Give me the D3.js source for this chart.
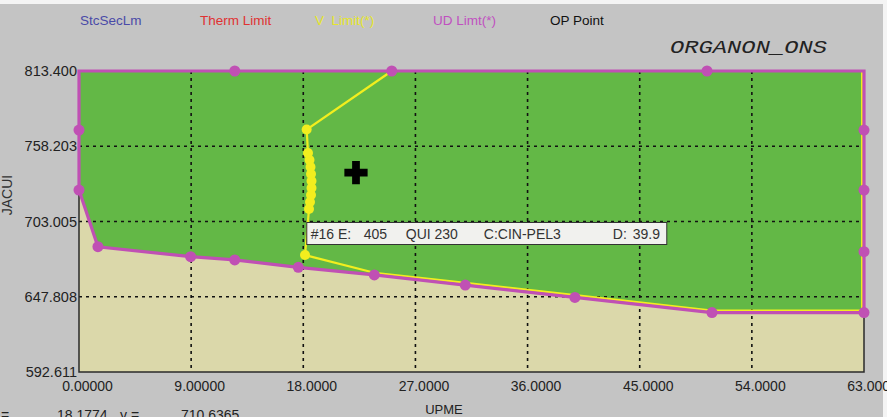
<!DOCTYPE html>
<html><head><meta charset="utf-8">
<script src="https://cdn.jsdelivr.net/npm/d3@7"></script>
<style>
html,body{margin:0;padding:0;background:#fff;overflow:hidden}
text{font-family:"Liberation Sans",Arial,sans-serif;white-space:pre}
</style></head>
<body><svg id="c" width="887" height="417"></svg>
<script>
// ---- data ----
const xTicks = [0, 9, 18, 27, 36, 45, 54, 63];
const xTickLabels = ["0.00000","9.00000","18.0000","27.0000","36.0000","45.0000","54.0000","63.0000"];
const yTicks = [592.611, 647.808, 703.005, 758.203, 813.4];
const yTickLabels = ["592.611","647.808","703.005","758.203","813.400"];
const legendNames = ["StcSecLm","Therm Limit","V  Limit(*)","UD Limt(*)","OP Point"];
const legendColors = ["#4a4aa8","#e03232","#e6e62a","#c050c0","#111111"];
// UD limit region boundary (x = UPME, y = JACUI)
const udX = [0, 12.5, 25.1, 50.4, 63, 63, 63, 63, 63, 50.8, 39.8, 31.0, 23.7, 17.6, 12.5, 8.96, 1.52, 0, 0];
const udY = [813.4, 813.4, 813.4, 813.4, 813.4, 770.1, 726.1, 680.9, 636.2, 636.2, 647.3, 656.4, 663.8, 669.4, 674.8, 677.2, 684.5, 726.1, 770.1];
const udDot = [0, 1, 1, 1, 0, 1, 1, 1, 1, 1, 1, 1, 1, 1, 1, 1, 1, 1, 1];
// V limit polyline
const vX = [62.85, 62.85, 50.8, 39.8, 31.0, 23.7, 18.14, 18.46, 18.54, 18.62, 18.66, 18.66, 18.62, 18.58, 18.50, 18.38, 18.27, 25.1];
const vY = [813.4, 637.6, 637.6, 649.0, 658.0, 665.4, 678.4, 712.2, 717.3, 722.4, 727.6, 732.7, 737.9, 743.0, 748.1, 753.3, 770.5, 813.4];
const vDot = [0, 0, 0, 0, 0, 0, 1, 1, 1, 1, 1, 1, 1, 1, 1, 1, 1, 0];
// operating point
const opX = [22.23];
const opY = [738.8];
// tooltip
const tipAnchor = [18.2, 703.005];
const tipTokens = ["#16 E:", "405", "QUI 230", "C:CIN-PEL3", "D:", "39.9"];
const tipOffsets = [4, 57, 99, 177, 306, 326];
const statusTokens = ["x =", "18.1774", "y =", "710.6365"];

// ---- drawing ----
const svg = d3.select("#c");
const W = 887, H = 417;
const x = d3.scaleLinear().domain([0, 63]).range([79, 864]);
const y = d3.scaleLinear().domain([592.611, 813.4]).range([372, 71]);

svg.append("rect").attr("width", W).attr("height", H).attr("fill", "#c4c4c4");
svg.append("rect").attr("x", 883).attr("width", 4).attr("height", H).attr("fill", "#f4f4f4");
svg.append("rect").attr("width", W).attr("height", 4).attr("fill", "#f4f4f4");

// plot background (infeasible)
svg.append("rect").attr("x", x(0)).attr("y", y(813.4))
  .attr("width", x(63) - x(0)).attr("height", y(592.611) - y(813.4))
  .attr("fill", "#dbd8aa");

const udPts = udX.map((d, i) => [d, udY[i], udDot[i]]);
const vPts = vX.map((d, i) => [d, vY[i], vDot[i]]);
const line = d3.line().x(d => x(d[0])).y(d => y(d[1]));

// feasible region
svg.append("path").attr("d", line(udPts) + "Z").attr("fill", "#63b846");

// grid
const g = svg.append("g").attr("stroke", "#111").attr("stroke-width", 1.6).attr("stroke-dasharray", "3,4");
xTicks.slice(1, -1).forEach(t => g.append("line").attr("x1", x(t)).attr("x2", x(t)).attr("y1", y(813.4)).attr("y2", y(592.611)));
yTicks.slice(1, -1).forEach(t => g.append("line").attr("x1", x(0)).attr("x2", x(63)).attr("y1", y(t)).attr("y2", y(t)));

// frame
svg.append("rect").attr("x", x(0)).attr("y", y(813.4))
  .attr("width", x(63) - x(0)).attr("height", y(592.611) - y(813.4))
  .attr("fill", "none").attr("stroke", "#2a2a2a").attr("stroke-width", 1.5);

// V limit
svg.append("path").attr("d", line(vPts)).attr("fill", "none").attr("stroke", "#f2ee1e").attr("stroke-width", 2.2);
svg.selectAll("circle.v").data(vPts.filter(d => d[2])).enter().append("circle")
  .attr("cx", d => x(d[0])).attr("cy", d => y(d[1])).attr("r", 5).attr("fill", "#f2ee1e");

// UD limit
svg.append("path").attr("d", line(udPts) + "Z").attr("fill", "none").attr("stroke", "#c050b4").attr("stroke-width", 3.2);
svg.selectAll("circle.u").data(udPts.filter(d => d[2])).enter().append("circle")
  .attr("cx", d => x(d[0])).attr("cy", d => y(d[1])).attr("r", 5.5).attr("fill", "#c050b4");

// OP point cross
svg.append("path").attr("d", d3.symbol(d3.symbolCross, 300)())
  .attr("transform", `translate(${x(opX[0])},${y(opY[0])})`).attr("fill", "#000");

// tooltip
const tx = x(tipAnchor[0]) + 1, ty = y(tipAnchor[1]) + 1;
svg.append("rect").attr("x", tx).attr("y", ty).attr("width", 360).attr("height", 22)
  .attr("fill", "#f1f1ee").attr("stroke", "#333").attr("stroke-width", 1);
tipTokens.forEach((t, i) => svg.append("text").attr("x", tx + tipOffsets[i]).attr("y", ty + 16.5)
  .attr("font-size", 14).attr("fill", "#333").text(t));

// axes
const xa = svg.append("g").attr("transform", `translate(0,${y(592.611)})`)
  .call(d3.axisBottom(x).tickValues(xTicks).tickFormat((d, i) => xTickLabels[i]).tickSize(0).tickPadding(9));
xa.select(".domain").remove();
xa.selectAll("text").attr("font-size", 14).attr("fill", "#222").attr("dx", 8)
  .style("font-family", "'Liberation Sans',Arial,sans-serif");

const ya = svg.append("g").attr("transform", `translate(${x(0)},0)`)
  .call(d3.axisLeft(y).tickValues(yTicks).tickFormat((d, i) => yTickLabels[i]).tickSize(0).tickPadding(2));
ya.select(".domain").remove();
ya.selectAll("text").attr("font-size", 14.5).attr("fill", "#222")
  .style("font-family", "'Liberation Sans',Arial,sans-serif");

// axis titles
svg.append("text").attr("x", 444).attr("y", 414).attr("text-anchor", "middle").attr("font-size", 13).attr("fill", "#222").text("UPME");
svg.append("text").attr("transform", "translate(12,195) rotate(-90)").attr("text-anchor", "middle")
  .attr("font-size", 14).attr("fill", "#333").text("JACUI");

// legend
const legX = [80, 200, 315, 433, 550];
legendNames.forEach((n, i) => svg.append("text").attr("x", legX[i]).attr("y", 25)
  .attr("font-size", 13.5).attr("fill", legendColors[i]).text(n));

svg.append("text").attr("x", 670).attr("y", 53).attr("font-size", 19).attr("font-style", "italic")
  .attr("textLength", 157).attr("lengthAdjust", "spacingAndGlyphs")
  .attr("fill", "#222").style("font-family", "'Liberation Mono','DejaVu Sans Mono',monospace").text("ORGANON_ONS");

// status line
const stX = [-10, 57, 120, 181];
statusTokens.forEach((t, i) => svg.append("text").attr("x", stX[i]).attr("y", 420)
  .attr("font-size", 14).attr("fill", "#222").text(t));
</script></body></html>
